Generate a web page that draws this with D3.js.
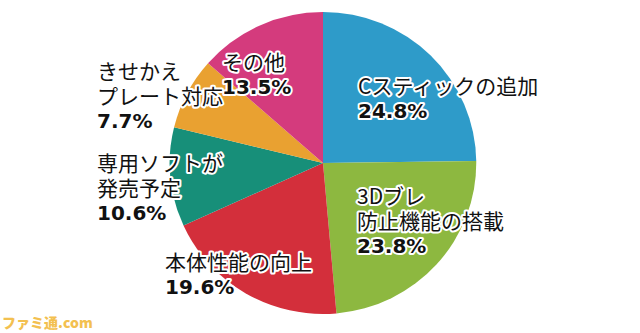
<!DOCTYPE html>
<html><head><meta charset="utf-8">
<script src="https://cdn.jsdelivr.net/npm/d3@7"></script>
<style>
html,body{margin:0;padding:0;background:#fff;}
svg{display:block;}
</style></head>
<body>
<svg id="chart" width="640" height="333"></svg>
<script>
// ---- data ----
const categories = ["Cスティックの追加", "3Dブレ防止機能の搭載", "本体性能の向上", "専用ソフトが発売予定", "きせかえプレート対応", "その他"];
const labelLines = [["Cスティックの追加"], ["3Dブレ", "防止機能の搭載"], ["本体性能の向上"], ["専用ソフトが", "発売予定"], ["きせかえ", "プレート対応"], ["その他"]];
const values = [24.8, 23.8, 19.6, 10.6, 7.7, 13.5];
const percentLabels = ["24.8%", "23.8%", "19.6%", "10.6%", "7.7%", "13.5%"];
const colors = ["#2e9bc9", "#8db840", "#d32f3b", "#178f79", "#e9a131", "#d43b7d"];

// ---- layout (label anchor: left x, first-line center y) ----
const labelAnchors = [[358, 86], [357, 196], [165, 262], [97, 163], [97, 71], [222, 62]];

const svg = d3.select("#chart");
const cx = 323, cy = 163, r = 151;

const pie = d3.pie().sort(null).value(d => d)(values);
const arc = d3.arc().innerRadius(0).outerRadius(r);

const g = svg.append("g").attr("transform", `translate(${cx},${cy}) scale(1.015,1)`);
g.selectAll("path").data(pie).join("path")
  .attr("d", arc)
  .attr("fill", (d, i) => colors[i]);

const lineH = 25.5;
const labels = svg.append("g");
categories.forEach((c, i) => {
  const [x, y] = labelAnchors[i];
  const lines = labelLines[i];
  const t = labels.append("text")
    .attr("fill", "#111")
    .attr("stroke", "#fff").attr("stroke-width", 4).attr("stroke-linejoin", "round")
    .attr("paint-order", "stroke");
  lines.forEach((ln, j) => {
    t.append("tspan")
      .attr("x", x).attr("y", y + j * lineH)
      .attr("dy", "0.36em")
      .attr("font-family", "'Noto Sans CJK JP', sans-serif")
      .attr("font-size", 21)
      .text(ln);
  });
  t.append("tspan")
    .attr("x", x).attr("y", y + lines.length * lineH - 1)
    .attr("dy", "0.36em")
    .attr("font-family", "'DejaVu Sans', sans-serif")
    .attr("font-weight", "bold")
    .attr("font-size", 20)
    .text(percentLabels[i]);
});

// watermark
svg.append("text")
  .attr("x", 2).attr("y", 328)
  .attr("font-family", "'Noto Sans CJK JP', sans-serif")
  .attr("font-weight", "900")
  .attr("font-size", 14)
  .attr("fill", "#f2b632")
  .attr("stroke", "#fff").attr("stroke-width", 2.5)
  .attr("paint-order", "stroke")
  .attr("opacity", 0.85)
  .text("ファミ通.com");
</script>
</body></html>
